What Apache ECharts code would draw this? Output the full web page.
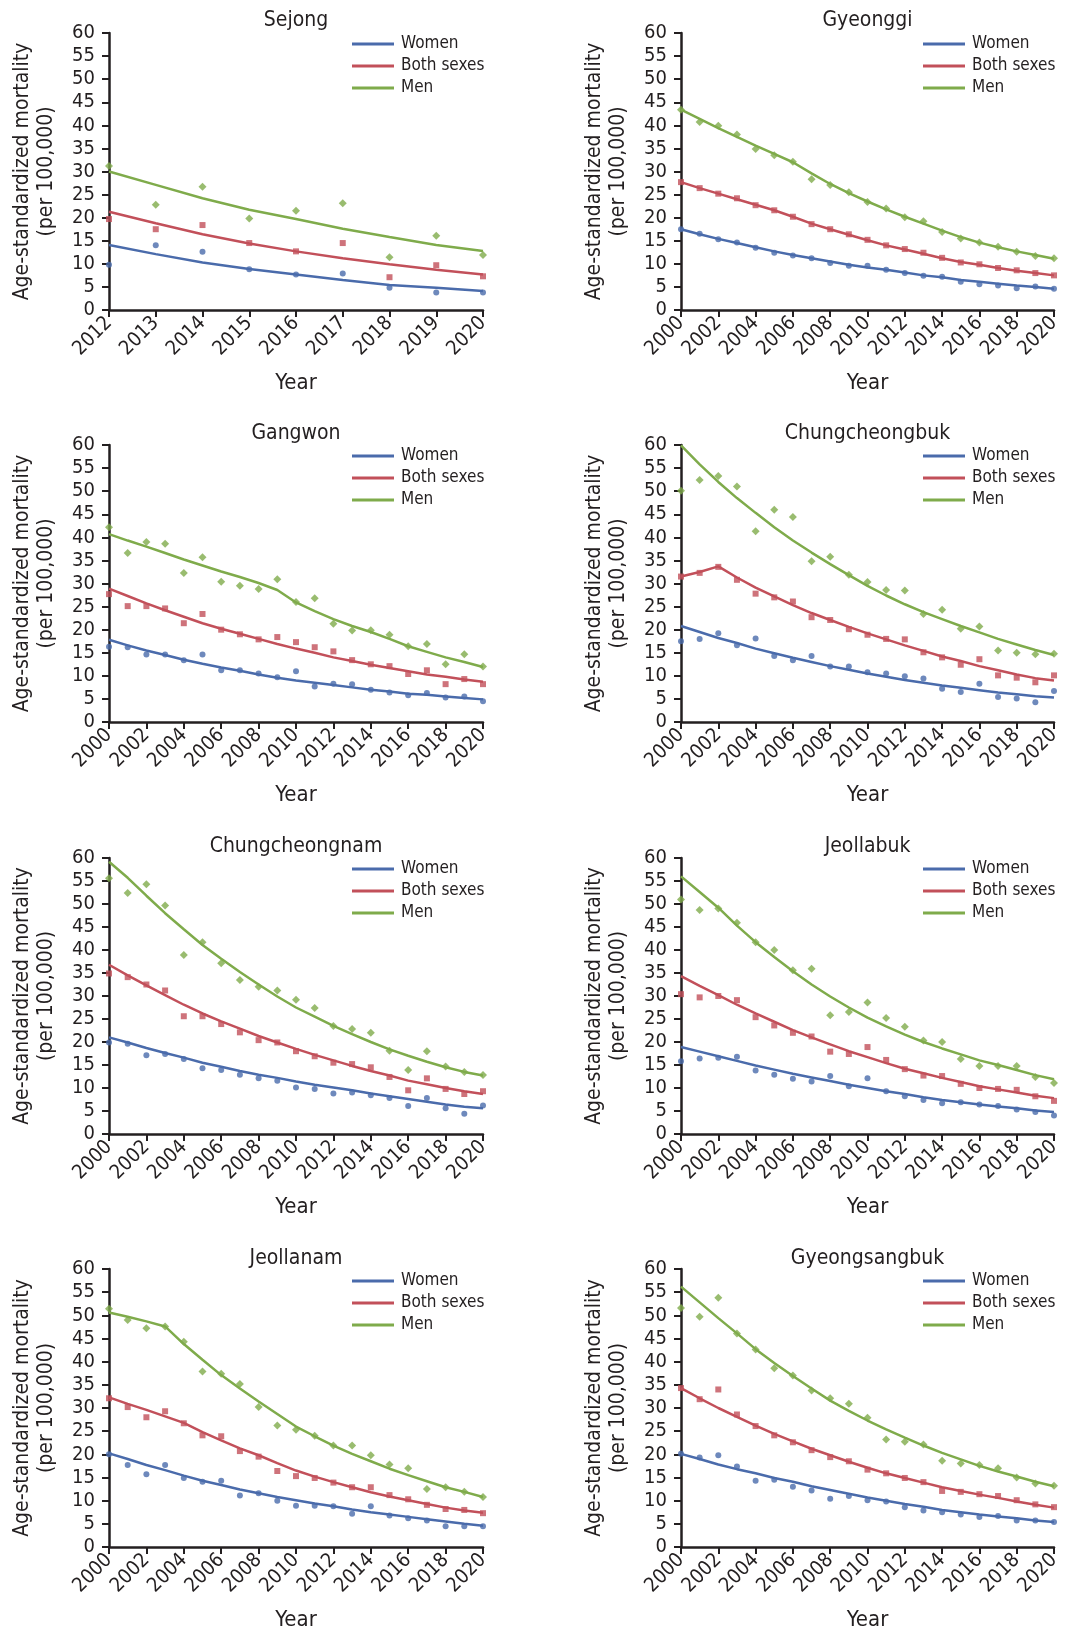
<!DOCTYPE html>
<html>
<head>
<meta charset="utf-8">
<script src="https://cdn.jsdelivr.net/npm/echarts@6/dist/echarts.min.js"></script>
<style>
html,body{margin:0;padding:0;background:#fff;}
#chart{width:1065px;height:1632px;}
</style>
</head>
<body>
<div id="chart"></div>
<script>
// ---------- DATA ----------
const panelTitles = ['Sejong','Gyeonggi','Gangwon','Chungcheongbuk','Chungcheongnam','Jeollabuk','Jeollanam','Gyeongsangbuk'];
const seriesNames = ['Women','Both sexes','Men'];
const yTicks = [0,5,10,15,20,25,30,35,40,45,50,55,60];
const yearsSejong = [2012,2013,2014,2015,2016,2017,2018,2019,2020];
const yearsLong = [2000,2001,2002,2003,2004,2005,2006,2007,2008,2009,2010,2011,2012,2013,2014,2015,2016,2017,2018,2019,2020];

// Sejong
const sejong_women_pts = [9.8,14.0,12.6,8.8,7.7,7.9,4.8,3.8,3.8];
const sejong_women_fit = [14.1,12.1,10.3,8.9,7.7,6.5,5.4,4.8,4.1];
const sejong_both_pts  = [19.7,17.5,18.4,14.5,12.7,14.5,7.1,9.7,7.3];
const sejong_both_fit  = [21.3,18.8,16.4,14.4,12.7,11.2,9.9,8.7,7.7];
const sejong_men_pts   = [31.2,22.8,26.7,19.8,21.5,23.1,11.4,16.1,11.9];
const sejong_men_fit   = [30.0,27.1,24.2,21.7,19.7,17.6,15.8,14.1,12.8];

// Gyeonggi
const gyeonggi_women_pts = [17.5,16.5,15.3,14.6,13.5,12.4,11.8,11.2,10.2,9.6,9.6,8.7,8.0,7.4,7.2,6.1,5.6,5.3,4.7,5.1,4.6];
const gyeonggi_women_fit = [17.5,16.4,15.4,14.5,13.6,12.7,11.9,11.2,10.5,9.8,9.2,8.7,8.1,7.5,7.1,6.5,6.1,5.7,5.3,5.0,4.6];
const gyeonggi_both_pts  = [27.7,26.4,25.2,24.2,22.7,21.6,20.2,18.6,17.5,16.4,15.2,14.0,13.2,12.4,11.3,10.3,9.9,9.1,8.6,8.0,7.5];
const gyeonggi_both_fit  = [27.7,26.4,25.2,24.0,22.8,21.6,20.2,18.7,17.5,16.3,15.1,14.0,13.1,12.2,11.2,10.4,9.8,9.1,8.5,8.0,7.5];
const gyeonggi_men_pts   = [43.4,40.7,39.9,38.0,34.9,33.5,32.1,28.3,27.1,25.5,23.4,22.0,20.1,19.2,16.9,15.5,14.6,13.7,12.6,11.7,11.2];
const gyeonggi_men_fit   = [43.4,41.4,39.4,37.5,35.6,33.8,32.0,29.6,27.3,25.3,23.5,21.8,20.2,18.7,17.2,15.8,14.6,13.6,12.7,11.9,11.1];

// Gangwon
const gangwon_women_pts = [16.3,16.2,14.6,14.6,13.4,14.6,11.2,11.2,10.5,9.7,11.0,7.7,8.3,8.2,7.0,6.4,5.8,6.3,5.3,5.5,4.5];
const gangwon_women_fit = [17.8,16.6,15.5,14.5,13.5,12.6,11.8,11.1,10.3,9.6,9.0,8.5,8.0,7.5,7.0,6.6,6.1,5.9,5.5,5.2,4.9];
const gangwon_both_pts  = [27.7,25.1,25.1,24.6,21.4,23.4,20.0,19.0,17.9,18.4,17.3,16.2,15.3,13.4,12.5,12.1,10.4,11.2,8.2,9.3,8.2];
const gangwon_both_fit  = [28.9,27.3,25.7,24.2,22.8,21.4,20.2,19.1,18.0,16.9,15.9,15.0,14.0,13.2,12.4,11.7,11.0,10.3,9.8,9.2,8.7];
const gangwon_men_pts   = [42.2,36.6,39.0,38.6,32.3,35.7,30.4,29.5,28.8,30.9,26.0,26.8,21.3,19.8,19.9,18.9,16.4,16.9,12.5,14.7,12.0];
const gangwon_men_fit   = [40.7,39.3,38.0,36.6,35.2,33.9,32.6,31.4,30.1,28.6,25.9,24.0,22.3,20.8,19.5,18.0,16.4,15.2,14.0,13.0,11.9];

// Chungcheongbuk
const cb_women_pts = [17.5,18.0,19.2,16.6,18.1,14.3,13.4,14.3,12.0,12.0,10.8,10.5,9.9,9.4,7.2,6.5,8.3,5.4,5.1,4.3,6.7];
const cb_women_fit = [20.8,19.5,18.2,17.1,15.9,14.9,13.9,13.0,12.1,11.3,10.5,9.8,9.1,8.5,7.9,7.4,6.9,6.4,6.0,5.6,5.3];
const cb_both_pts  = [31.5,32.3,33.6,30.8,27.8,27.0,26.1,22.7,22.1,20.1,18.9,18.0,17.9,15.1,14.0,12.4,13.6,10.1,9.6,8.6,10.1];
const cb_both_fit  = [31.5,32.5,33.7,31.3,29.1,27.2,25.3,23.6,22.1,20.6,19.2,17.9,16.6,15.4,14.2,13.2,12.1,11.2,10.3,9.5,9.0];
const cb_men_pts   = [50.1,52.4,53.3,51.0,41.3,46.0,44.4,34.8,35.8,31.9,30.3,28.6,28.5,23.4,24.3,20.2,20.7,15.5,15.0,14.7,14.8];
const cb_men_fit   = [59.9,55.8,52.0,48.5,45.3,42.2,39.3,36.7,34.2,31.8,29.5,27.4,25.5,23.8,22.3,20.8,19.4,18.0,16.8,15.6,14.5];

// Chungcheongnam
const cn_women_pts = [19.9,19.6,17.1,17.4,16.3,14.3,13.9,12.9,12.1,11.6,10.1,9.8,8.8,9.0,8.4,7.8,6.1,7.8,5.6,4.4,6.2];
const cn_women_fit = [21.0,19.9,18.7,17.6,16.6,15.5,14.6,13.7,12.9,12.2,11.4,10.7,10.1,9.5,8.8,8.2,7.6,7.0,6.4,5.9,5.6];
const cn_both_pts  = [34.9,34.1,32.5,31.2,25.6,25.6,23.9,22.1,20.4,19.9,18.0,16.9,15.5,15.2,14.5,12.4,9.5,12.1,9.8,8.7,9.3];
const cn_both_fit  = [36.8,34.5,32.3,30.2,28.1,26.2,24.5,22.9,21.3,19.9,18.5,17.2,16.0,14.8,13.7,12.7,11.6,10.8,10.0,9.3,8.7];
const cn_men_pts   = [55.6,52.4,54.3,49.7,38.9,41.7,37.1,33.5,32.0,31.2,29.2,27.4,23.5,22.8,22.0,18.1,13.9,18.0,14.7,13.5,12.8];
const cn_men_fit   = [59.2,55.7,51.8,48.0,44.5,41.1,38.1,35.2,32.5,29.9,27.5,25.5,23.5,21.7,20.0,18.4,17.0,15.7,14.5,13.5,12.7];

// Jeollabuk
const jb_women_pts = [15.8,16.4,16.6,16.8,13.8,12.9,12.0,11.4,12.6,10.4,12.1,9.3,8.2,7.4,6.7,6.9,6.4,6.1,5.3,4.8,4.0];
const jb_women_fit = [18.9,17.9,16.9,15.9,14.9,14.0,13.1,12.3,11.5,10.7,10.0,9.3,8.7,8.0,7.4,6.9,6.4,6.0,5.6,5.1,4.8];
const jb_both_pts  = [30.4,29.7,30.0,29.1,25.4,23.6,22.0,21.2,17.9,17.4,18.9,16.1,14.1,12.7,12.6,10.9,10.0,9.8,9.6,8.2,7.2];
const jb_both_fit  = [34.3,32.2,30.2,28.1,26.2,24.4,22.6,21.0,19.5,18.0,16.7,15.4,14.2,13.2,12.2,11.3,10.4,9.7,9.0,8.3,7.8];
const jb_men_pts   = [51.0,48.7,49.0,45.9,41.7,40.0,35.6,35.9,25.8,26.5,28.6,25.2,23.3,20.3,20.0,16.3,14.8,14.8,14.8,12.4,11.1];
const jb_men_fit   = [56.0,52.6,49.2,45.3,41.7,38.5,35.4,32.5,29.9,27.5,25.3,23.4,21.6,20.0,18.6,17.3,16.0,15.0,13.9,12.8,11.9];

// Jeollanam
const jn_women_pts = [20.0,17.7,15.7,17.7,14.9,14.1,14.3,11.1,11.6,10.0,8.9,8.9,8.8,7.2,8.8,6.8,6.2,5.7,4.5,4.5,4.5];
const jn_women_fit = [20.2,19.0,17.7,16.6,15.4,14.3,13.4,12.4,11.6,10.8,10.1,9.4,8.8,8.1,7.5,7.0,6.5,6.0,5.5,5.0,4.6];
const jn_both_pts  = [32.1,30.2,28.0,29.3,26.7,24.1,23.9,20.7,19.5,16.4,15.3,14.9,13.9,12.9,12.9,11.2,10.3,9.1,8.2,8.0,7.3];
const jn_both_fit  = [32.3,30.9,29.6,28.2,26.8,24.8,23.0,21.3,19.8,18.1,16.5,15.2,14.0,12.9,11.8,10.9,10.1,9.3,8.5,7.9,7.4];
const jn_men_pts   = [51.4,49.0,47.2,47.6,44.3,37.9,37.4,35.2,30.2,26.2,25.3,24.0,21.9,21.9,19.8,17.8,17.0,12.5,12.9,11.9,10.8];
const jn_men_fit   = [50.6,49.7,48.7,47.6,43.8,40.4,37.1,34.2,31.4,28.7,26.0,23.9,21.9,20.1,18.5,16.9,15.5,14.2,12.9,11.9,10.8];

// Gyeongsangbuk
const gb_women_pts = [20.1,19.3,19.8,17.4,14.3,14.5,13.0,12.2,10.4,11.0,10.1,9.8,8.6,7.9,7.5,7.0,6.5,6.7,5.7,5.7,5.4];
const gb_women_fit = [20.1,19.0,17.8,16.8,15.9,14.9,14.1,13.1,12.3,11.5,10.7,10.0,9.3,8.7,8.0,7.5,7.0,6.6,6.2,5.7,5.4];
const gb_both_pts  = [34.3,31.9,34.0,28.6,26.1,24.1,22.6,20.9,19.4,18.5,16.7,15.9,14.9,14.0,12.1,11.9,11.4,11.0,10.1,9.2,8.6];
const gb_both_fit  = [34.3,32.1,30.0,28.1,26.2,24.4,22.8,21.2,19.8,18.4,17.1,15.9,14.9,13.9,12.9,12.1,11.3,10.6,9.8,9.1,8.5];
const gb_men_pts   = [51.6,49.7,53.8,46.1,42.6,38.6,37.0,33.8,32.1,30.9,27.9,23.2,22.7,22.1,18.6,18.0,17.7,17.0,15.0,13.7,13.2];
const gb_men_fit   = [56.2,52.8,49.4,46.1,42.7,39.7,36.9,34.2,31.6,29.4,27.3,25.4,23.6,21.9,20.3,18.9,17.5,16.3,15.2,14.1,13.1];

const panelYears = [yearsSejong, yearsLong, yearsLong, yearsLong, yearsLong, yearsLong, yearsLong, yearsLong];
const panelPts = [
  [sejong_women_pts, sejong_both_pts, sejong_men_pts],
  [gyeonggi_women_pts, gyeonggi_both_pts, gyeonggi_men_pts],
  [gangwon_women_pts, gangwon_both_pts, gangwon_men_pts],
  [cb_women_pts, cb_both_pts, cb_men_pts],
  [cn_women_pts, cn_both_pts, cn_men_pts],
  [jb_women_pts, jb_both_pts, jb_men_pts],
  [jn_women_pts, jn_both_pts, jn_men_pts],
  [gb_women_pts, gb_both_pts, gb_men_pts]
];
const panelFit = [
  [sejong_women_fit, sejong_both_fit, sejong_men_fit],
  [gyeonggi_women_fit, gyeonggi_both_fit, gyeonggi_men_fit],
  [gangwon_women_fit, gangwon_both_fit, gangwon_men_fit],
  [cb_women_fit, cb_both_fit, cb_men_fit],
  [cn_women_fit, cn_both_fit, cn_men_fit],
  [jb_women_fit, jb_both_fit, jb_men_fit],
  [jn_women_fit, jn_both_fit, jn_men_fit],
  [gb_women_fit, gb_both_fit, gb_men_fit]
];

// ---------- STYLE / LAYOUT ----------
const FONT = "'Liberation Sans Narrow', 'DejaVu Sans Condensed', 'Roboto', sans-serif";
const INK = '#231f20';
const colors = ['#4a6bab', '#c2505a', '#7fab4b'];
const symbols = ['circle', 'rect', 'diamond'];
const symbolSizes = [6, 6, 8];
const colLeft = [109, 681];
const colWidth = [374, 373];
const rowTop = [33, 445, 858, 1269];
const rowHeight = [277, 277, 276, 278];
const titleTop = [10, 423, 836, 1248];
const legendTop = [35, 447, 860, 1272];
const legendLeft = [352, 923];

const grid = [], xAxis = [], yAxis = [], title = [], legend = [], series = [];
for (let p = 0; p < 8; p++) {
  const col = p % 2, row = Math.floor(p / 2);
  const yrs = panelYears[p];
  grid.push({ left: colLeft[col], top: rowTop[row], width: colWidth[col], height: rowHeight[row], containLabel: false });
  xAxis.push({
    gridIndex: p, type: 'value', min: yrs[0], max: yrs[yrs.length - 1],
    interval: p === 0 ? 1 : 2,
    name: 'Year', nameLocation: 'middle', nameGap: 62,
    nameTextStyle: { fontFamily: FONT, fontSize: 22, color: INK },
    axisLine: { show: true, lineStyle: { color: INK, width: 2.5 } },
    axisTick: { show: true, length: 7, lineStyle: { color: INK, width: 2 } },
    axisLabel: { rotate: 45, margin: 10, fontFamily: FONT, fontSize: 20, color: INK, formatter: v => String(v) },
    splitLine: { show: false }
  });
  yAxis.push({
    gridIndex: p, type: 'value', min: yTicks[0], max: yTicks[yTicks.length - 1], interval: 5,
    name: 'Age-standardized mortality\n(per 100,000)', nameLocation: 'middle', nameGap: 50,
    nameTextStyle: { fontFamily: FONT, fontSize: 21, lineHeight: 24, color: INK, align: 'center' },
    axisLine: { show: true, lineStyle: { color: INK, width: 2.5 } },
    axisTick: { show: true, length: 7, lineStyle: { color: INK, width: 2 } },
    axisLabel: { margin: 14, fontFamily: FONT, fontSize: 20, color: INK },
    splitLine: { show: false }
  });
  title.push({
    text: panelTitles[p], left: colLeft[col] + colWidth[col] / 2, top: titleTop[row],
    textAlign: 'center', padding: 0,
    textStyle: { fontFamily: FONT, fontSize: 21, fontWeight: 'normal', color: INK }
  });
  legend.push({
    data: seriesNames.map(n => n), orient: 'vertical', left: legendLeft[col], top: legendTop[row],
    padding: 0, itemGap: 4, itemWidth: 42, itemHeight: 3, icon: 'rect', selectedMode: false,
    textStyle: { fontFamily: FONT, fontSize: 17, lineHeight: 18, color: INK, padding: [0, 0, 0, 2] }
  });
  for (let s = 0; s < 3; s++) {
    series.push({
      name: seriesNames[s], type: 'line', xAxisIndex: p, yAxisIndex: p,
      data: yrs.map((y, i) => [y, panelFit[p][s][i]]),
      symbol: 'none', smooth: false, z: 2,
      lineStyle: { color: colors[s], width: 2.5 }, itemStyle: { color: colors[s] }
    });
  }
  for (let s = 0; s < 3; s++) {
    series.push({
      name: seriesNames[s] + ' (observed)', type: 'scatter', xAxisIndex: p, yAxisIndex: p,
      data: yrs.map((y, i) => [y, panelPts[p][s][i]]),
      symbol: symbols[s], symbolSize: symbolSizes[s], z: 3,
      itemStyle: { color: colors[s] }
    });
  }
}

const chart = echarts.init(document.getElementById('chart'), null, { renderer: 'canvas' });
chart.setOption({ animation: false, backgroundColor: '#ffffff', grid, xAxis, yAxis, title, legend, series });
</script>
</body>
</html>
